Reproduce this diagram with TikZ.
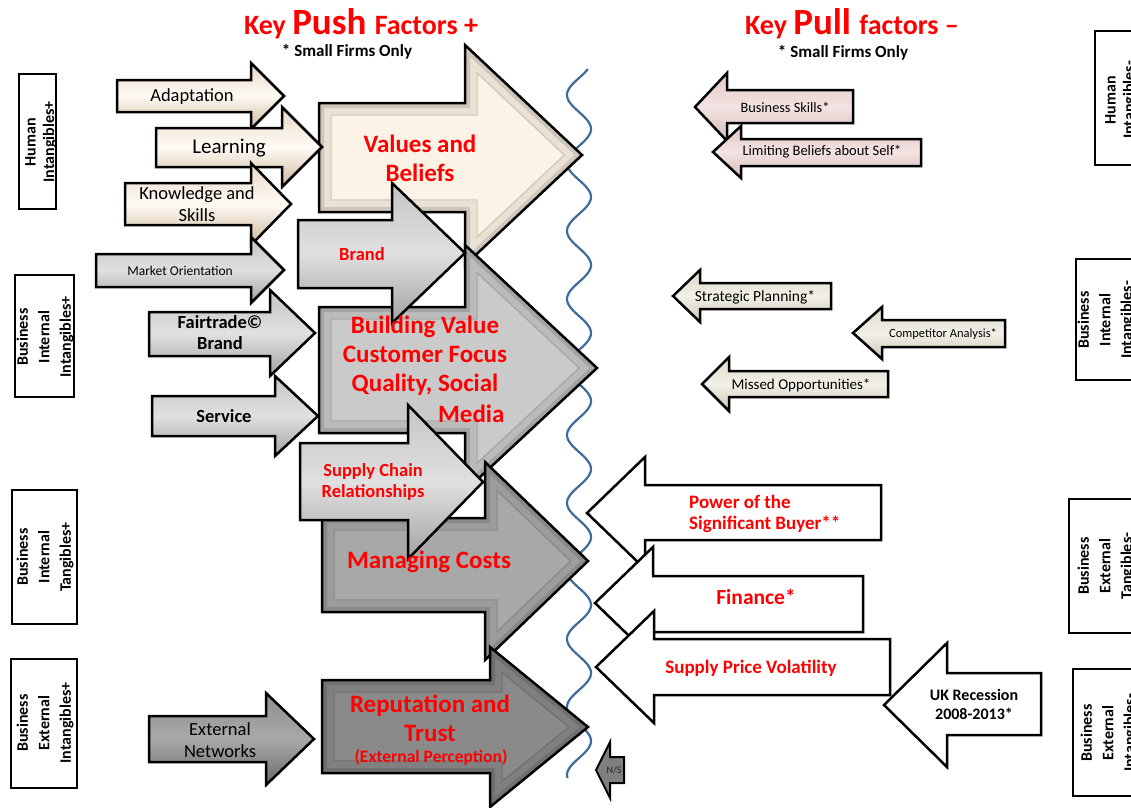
\documentclass[tikz,border=0pt]{standalone}
\usepackage{fontspec}
\setmainfont{Carlito}
\definecolor{pred}{HTML}{FF0000}
\definecolor{wavec}{HTML}{3F6A9C}
\definecolor{creamA}{HTML}{FCF3E6}
\definecolor{greyA}{HTML}{CACACA}
\definecolor{greyB}{HTML}{A8A8A8}
\definecolor{greyC}{HTML}{8A8A8A}
\definecolor{crT}{HTML}{E6D8C6}
\definecolor{crM}{HTML}{FFFBF4}
\definecolor{crB}{HTML}{CDB99F}
\definecolor{gT}{HTML}{C4C4C4}
\definecolor{gM}{HTML}{E0E0E0}
\definecolor{gB}{HTML}{A2A2A2}
\definecolor{dT}{HTML}{8E8E8E}
\definecolor{dM}{HTML}{A9A9A9}
\definecolor{dB}{HTML}{6A6A6A}
\definecolor{pkT}{HTML}{E2C8C7}
\definecolor{pkM}{HTML}{F3E3E2}
\definecolor{pkB}{HTML}{D5B9B8}
\definecolor{bgT}{HTML}{DCD8C7}
\definecolor{bgM}{HTML}{F2F0E8}
\definecolor{bgB}{HTML}{CBC6B3}
\definecolor{nsgrey}{HTML}{7F7F7F}
\tikzset{
  arrowline/.style={draw=black, line width=2.5pt, line join=miter, miter limit=10},
  creamarrow/.style={arrowline, top color=crT, bottom color=crB, middle color=crM},
  greyarrow/.style={arrowline, top color=gT, bottom color=gB, middle color=gM},
  darkarrow/.style={arrowline, top color=dT, bottom color=dB, middle color=dM},
  pinkarrow/.style={arrowline, top color=pkT, bottom color=pkB, middle color=pkM},
  beigearrow/.style={arrowline, top color=bgT, bottom color=bgB, middle color=bgM},
  whitearrow/.style={arrowline, fill=white},
  catbox/.style={draw=black, line width=2.5pt},
  cattext/.style={rotate=90, align=center, font=\fontsize{16}{21.5}\selectfont\bfseries},
  bigtext/.style={text=pred, align=center, font=\fontsize{25}{29}\selectfont\bfseries},
  midtext/.style={text=pred, align=center, font=\fontsize{18.5}{21}\selectfont\bfseries},
  smalltext/.style={align=center, font=\fontsize{18.5}{22}\selectfont},
  redpull/.style={text=pred, font=\fontsize{19}{21}\selectfont\bfseries},
}
% generic arrow polygon: x0, body top, body bottom, head base x, head top, tip x, tip y
\newcommand{\SmallArrow}[8][]{%
  \path[#1] (#2,#3) -- (#5,#3) -- (#5,#6) -- (#7,#8) -- (#5,{2*#8-#6}) -- (#5,#4) -- (#2,#4) -- cycle;}
\newcommand{\BigArrow}[8]{%
  \begin{scope}
    \clip (#2,#3) -- (#5,#3) -- (#5,#6) -- (#7,#8) -- (#5,{2*#8-#6}) -- (#5,#4) -- (#2,#4) -- cycle;
    \fill[#1] (#2,#6) rectangle (#7,{2*#8-#6});
    \draw[line width=26pt, draw=#1!50!black, opacity=0.14] (#2,#3) -- (#5,#3) -- (#5,#6) -- (#7,#8) -- (#5,{2*#8-#6}) -- (#5,#4) -- (#2,#4) -- cycle;
    \draw[line width=10pt, draw=#1!50!black, opacity=0.26] (#2,#3) -- (#5,#3) -- (#5,#6) -- (#7,#8) -- (#5,{2*#8-#6}) -- (#5,#4) -- (#2,#4) -- cycle;
    \pgfmathsetmacro\bsl{(#8-#6)/(#7-#5)}
    \pgfmathsetmacro\bee{12*\bsl+12*sqrt(1+\bsl*\bsl)}
    \pgfmathsetmacro\bff{12*sqrt(1+\bsl*\bsl)/\bsl}
    \draw[line width=0.9pt, draw=#1!80!black] ({#2+12},{#3+12}) -- ({#5+12},{#3+12}) -- ({#5+12},{#6+\bee}) -- ({#7-\bff},#8) -- ({#5+12},{2*#8-#6-\bee}) -- ({#5+12},{#4-12}) -- ({#2+12},{#4-12}) -- cycle;
  \end{scope}
  \draw[arrowline] (#2,#3) -- (#5,#3) -- (#5,#6) -- (#7,#8) -- (#5,{2*#8-#6}) -- (#5,#4) -- (#2,#4) -- cycle;}
\begin{document}
\begin{tikzpicture}[x=1pt, y=-1pt]
\useasboundingbox (0,0) rectangle (1131,807);
\clip (0,0) rectangle (1131,807);

% titles
\node[anchor=base, text=pred, font=\bfseries] (pushtitle) at (361,34)
  {\fontsize{28}{30}\selectfont Key \fontsize{37}{40}\selectfont Push \fontsize{28}{30}\selectfont Factors +};
\node[font=\fontsize{17}{20}\selectfont\bfseries] (pushnote) at (347,52) {* Small Firms Only};
\node[anchor=base, text=pred, font=\bfseries] (pulltitle) at (852,34)
  {\fontsize{28}{30}\selectfont Key \fontsize{37}{40}\selectfont Pull \fontsize{28}{30}\selectfont factors \textendash};
\node[font=\fontsize{17}{20}\selectfont\bfseries] (pullnote) at (843,53) {* Small Firms Only};

% category boxes (left)
\draw[catbox] (19,74) rectangle (56,209);
\node[cattext, font=\fontsize{16}{18.5}\selectfont\bfseries] (cl1) at (41,142) {Human\\Intangibles+};
\draw[catbox] (15,275) rectangle (74,397);
\node[cattext] (cl2) at (45,337) {Business\\Internal\\Intangibles+};
\draw[catbox] (12,490) rectangle (77,624);
\node[cattext] (cl3) at (45,557) {Business\\Internal\\Tangibles+};
\draw[catbox] (11,659) rectangle (77,788);
\node[cattext] (cl4) at (45,723) {Business\\External\\Intangibles+};

% category boxes (right, cut by the edge)
\draw[catbox] (1095,31) rectangle (1170,165);
\node[cattext, font=\fontsize{16}{18.5}\selectfont\bfseries] (cr1) at (1121,100) {Human\\Intangibles-};
\draw[catbox] (1076,259) rectangle (1170,380);
\node[cattext] (cr2) at (1106,320) {Business\\Internal\\Intangibles-};
\draw[catbox] (1069,499) rectangle (1170,633);
\node[cattext] (cr3) at (1106,566) {Business\\External\\Tangibles-};
\draw[catbox] (1073,669) rectangle (1170,796);
\node[cattext] (cr4) at (1109,733) {Business\\External\\Intangibles-};

% wavy divider
\draw[wavec, line width=2.2pt] plot[variable=\t, domain=69:778, samples=400, smooth]
  ({579+12*cos(360/68*(\t-61))},\t);

% big push arrows
\BigArrow{creamA}{319}{103}{212}{465}{45}{582}{155}
\BigArrow{greyA}{319}{307}{433}{465}{245}{597}{368}
\BigArrow{greyB}{322}{518}{612}{485}{462}{588}{561}
\BigArrow{greyC}{322}{680}{773}{490}{647}{588}{727}
\SmallArrow[greyarrow]{298}{220}{288}{392}{183}{465}{253}
\SmallArrow[greyarrow]{300}{443}{520}{408}{405}{483}{482}

% small push arrows
\SmallArrow[creamarrow]{117}{80}{112}{251}{63}{284}{96}
\SmallArrow[creamarrow]{156}{128}{167}{282}{107}{322}{147}
\SmallArrow[creamarrow]{125}{183}{225}{251}{163}{291}{204}
\SmallArrow[greyarrow]{96}{254}{287}{251}{237}{284}{270}
\SmallArrow[greyarrow]{149}{312}{356}{270}{290}{315}{333}
\SmallArrow[greyarrow]{152}{396}{436}{275}{376}{318}{416}
\SmallArrow[darkarrow]{149}{716}{762}{266}{693}{314}{739}

% pull arrows
\SmallArrow[pinkarrow]{853}{90}{123}{727}{73}{695}{107}
\SmallArrow[pinkarrow]{921}{139}{166}{741}{126}{713}{152}
\SmallArrow[beigearrow]{831}{283}{309}{700}{270}{673}{296}
\SmallArrow[beigearrow]{1005}{320}{347}{882}{307}{853}{333}
\SmallArrow[beigearrow]{888}{371}{397}{729}{357}{702}{384}
\SmallArrow[whitearrow]{881}{485}{540}{645}{457}{587}{513}
\SmallArrow[whitearrow]{863}{576}{632}{653}{547}{595}{603}
\SmallArrow[whitearrow]{890}{639}{695}{654}{611}{596}{667}
\SmallArrow[whitearrow]{1041}{673}{735}{947}{643}{884}{705}
\SmallArrow[arrowline, fill=nsgrey, line width=2pt]{624}{757}{783}{610}{742}{596}{770}
\begin{scope}
  \clip (624,757) -- (610,757) -- (610,742) -- (596,770) -- (610,798) -- (610,783) -- (624,783) -- cycle;
  \node[font=\fontsize{10}{12}\selectfont, text=black!85] (ns) at (614,770) {N/S};
\end{scope}

% texts of big push arrows
\node[bigtext] (values) at (420,158) {Values and\\Beliefs};
\node[bigtext] (building) at (425,356) {Building Value\\Customer Focus\\Quality, Social};
\node[bigtext, anchor=east] (media) at (508,414) {Media};
\node[bigtext] (costs) at (429,562) {Managing Costs};
\node[bigtext] (reput) at (430,718) {Reputation and\\Trust};
\node[text=pred, font=\fontsize{17.5}{20}\selectfont\bfseries] (percep) at (431,757) {(External Perception)};
\node[midtext] (brand) at (362,254) {Brand};
\node[midtext] (supply) at (373,482) {Supply Chain\\Relationships};

% texts of small push arrows
\node[smalltext] (adapt) at (192,97) {Adaptation};
\node[smalltext, font=\fontsize{21}{24}\selectfont] (learn) at (229,148) {Learning};
\node[smalltext] (know) at (197,204) {Knowledge and\\Skills};
\node[font=\fontsize{13.5}{16}\selectfont] (market) at (180,271) {Market Orientation};
\node[smalltext, font=\fontsize{18.5}{21}\selectfont\bfseries] (fair) at (220,333) {Fairtrade\textcopyright\\Brand};
\node[smalltext, font=\fontsize{18.5}{21}\selectfont\bfseries] (service) at (224,416) {Service};
\node[smalltext] (extnet) at (220,740) {External\\Networks};

% texts of pull arrows
\node[font=\fontsize{14.3}{17}\selectfont] (bskills) at (785,107) {Business Skills*};
\node[font=\fontsize{14.5}{17}\selectfont] (limit) at (822,152) {Limiting Beliefs about Self*};
\node[font=\fontsize{15.5}{18}\selectfont] (strat) at (755,297) {Strategic Planning*};
\node[font=\fontsize{12.5}{15}\selectfont] (comp) at (943,334) {Competitor Analysis*};
\node[font=\fontsize{15}{18}\selectfont] (missed) at (801,385) {Missed Opportunities*};
\node[redpull, anchor=west, align=left, inner sep=0pt] (power) at (689,514) {Power of the\\Significant Buyer**};
\node[text=pred, font=\fontsize{21.5}{24}\selectfont\bfseries] (finance) at (756,597) {Finance*};
\node[redpull] (volat) at (751,668) {Supply Price Volatility};
\node[align=center, font=\fontsize{16}{19}\selectfont\bfseries] (ukrec) at (974,704) {UK Recession\\2008-2013*};
\end{tikzpicture}
\end{document}
